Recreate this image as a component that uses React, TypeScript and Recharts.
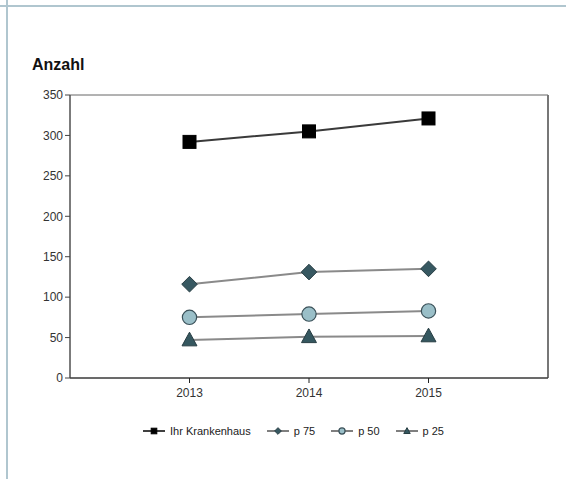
import { LineChart, Line, XAxis, YAxis, ReferenceArea, ReferenceLine } from 'recharts';

const years = [2013, 2014, 2015];
const ihrKrankenhaus = [292, 305, 321];
const p75 = [116, 131, 135];
const p50 = [75, 79, 83];
const p25 = [47, 51, 52];
const yTicks = [0, 50, 100, 150, 200, 250, 300, 350];

const data = years.map((year, i) => ({
  year,
  ihr: ihrKrankenhaus[i],
  p75: p75[i],
  p50: p50[i],
  p25: p25[i],
}));

type Shape = 'square' | 'diamond' | 'circle' | 'triangle';

const series: { key: string; name: string; line: string; width: number; shape: Shape; fill: string; stroke: string }[] = [
  { key: 'ihr', name: 'Ihr Krankenhaus', line: '#3a3a3a', width: 2, shape: 'square', fill: '#000000', stroke: '#000000' },
  { key: 'p75', name: 'p 75', line: '#8a8a8a', width: 2, shape: 'diamond', fill: '#375861', stroke: '#2a3f45' },
  { key: 'p50', name: 'p 50', line: '#8a8a8a', width: 2, shape: 'circle', fill: '#9abfc8', stroke: '#3a5058' },
  { key: 'p25', name: 'p 25', line: '#8a8a8a', width: 2, shape: 'triangle', fill: '#35575f', stroke: '#263c42' },
];

function Marker({ shape, cx, cy, s, fill, stroke }: { shape: Shape; cx: number; cy: number; s: number; fill: string; stroke: string }) {
  if (shape === 'square') {
    return <rect x={cx - s} y={cy - s} width={s * 2} height={s * 2} fill={fill} stroke={stroke} />;
  }
  if (shape === 'diamond') {
    return <polygon points={`${cx},${cy - s * 1.2} ${cx + s * 1.2},${cy} ${cx},${cy + s * 1.2} ${cx - s * 1.2},${cy}`} fill={fill} stroke={stroke} />;
  }
  if (shape === 'circle') {
    return <circle cx={cx} cy={cy} r={s * 1.1} fill={fill} stroke={stroke} strokeWidth={1.2} />;
  }
  return <polygon points={`${cx},${cy - s * 1.2} ${cx + s * 1.15},${cy + s * 0.9} ${cx - s * 1.15},${cy + s * 0.9}`} fill={fill} stroke={stroke} />;
}

const font = 'Arial, "Liberation Sans", sans-serif';

export default function App() {
  return (
    <div style={{ position: 'absolute', left: 0, top: 0, width: 566, height: 479, background: '#fff', fontFamily: font, overflow: 'hidden' }}>
      <svg width={566} height={479} style={{ position: 'absolute', left: 0, top: 0 }}>
        <rect x={0} y={5} width={566} height={2} fill="#b0c6cf" />
        <rect x={6} y={0} width={2} height={479} fill="#b0c6cf" />
      </svg>

      <div style={{ position: 'absolute', left: 32, top: 56, fontSize: 16, fontWeight: 'bold', color: '#111' }}>Anzahl</div>

      <div style={{ position: 'absolute', left: 0, top: 0 }}>
        <LineChart width={566} height={479} data={data} margin={{ top: 95, right: 18, bottom: 71, left: 0 }}>
          <ReferenceArea x1={2012} x2={2016} y1={0} y2={350} fill="none" stroke="#666" strokeWidth={1} />
          <ReferenceLine x={2016} stroke="#777" strokeWidth={2} />
          <XAxis
            dataKey="year"
            type="number"
            domain={[2012, 2016]}
            ticks={years}
            allowDecimals={false}
            height={30}
            tickSize={5}
            tickMargin={5}
            stroke="#222"
            tick={{ fill: '#333', fontSize: 12, fontFamily: font }}
          />
          <YAxis
            domain={[0, 350]}
            ticks={yTicks}
            width={70}
            tickSize={5}
            stroke="#444"
            tick={{ fill: '#333', fontSize: 12, fontFamily: font }}
          />
          {series.map((s) => (
            <Line
              key={s.key}
              dataKey={s.key}
              name={s.name}
              stroke={s.line}
              strokeWidth={s.width}
              isAnimationActive={false}
              dot={(p: any) => <Marker key={`${s.key}-${p.index}`} shape={s.shape} cx={p.cx} cy={p.cy} s={6.5} fill={s.fill} stroke={s.stroke} />}
              activeDot={false}
            />
          ))}
        </LineChart>
      </div>

      <div style={{ position: 'absolute', left: 143, top: 424, display: 'flex', alignItems: 'center', fontSize: 11, color: '#222', whiteSpace: 'nowrap' }}>
        {series.map((s) => (
          <div key={s.key} style={{ display: 'flex', alignItems: 'center', marginRight: 16 }}>
            <svg width={22} height={14} style={{ marginRight: 5 }}>
              <line x1={0} y1={7} x2={22} y2={7} stroke={s.line === '#3a3a3a' ? '#000' : '#555'} strokeWidth={1.5} />
              <Marker shape={s.shape} cx={11} cy={7} s={2.8} fill={s.fill} stroke={s.stroke} />
            </svg>
            <span>{s.name}</span>
          </div>
        ))}
      </div>
    </div>
  );
}
